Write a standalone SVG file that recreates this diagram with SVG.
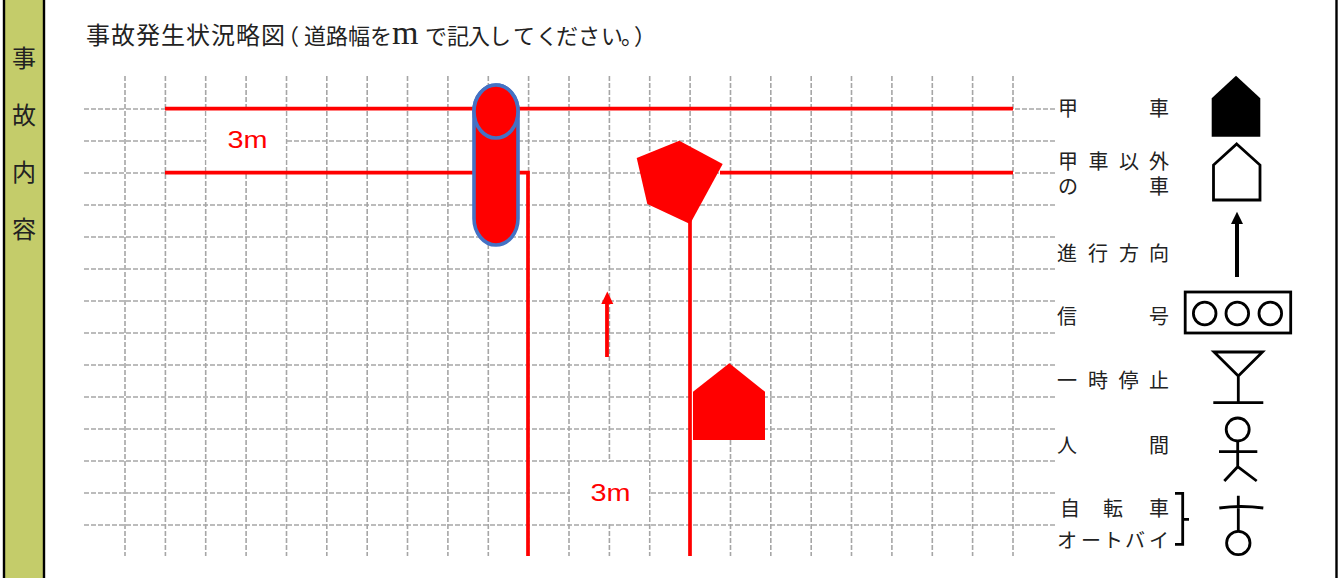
<svg xmlns="http://www.w3.org/2000/svg" width="1338" height="578" viewBox="0 0 1338 578">
<style>
text{font-family:"Noto Sans CJK JP","Noto Sans",sans-serif;fill:#222}
.t{font-size:24px}.l{font-size:20px}
.r{font-family:"Liberation Sans",sans-serif;font-size:23px;fill:#f00}
.g{stroke:#a6a6a6;stroke-width:1.6;stroke-dasharray:5 2;fill:none}
.w{stroke:#f00;stroke-width:3.7;fill:none}
.k{stroke:#000;stroke-width:2.8;fill:none}
</style>
<rect width="1338" height="578" fill="#fff"/>
<g id="band"><rect x="4" y="0" width="40" height="578" fill="#c4cc6a"/><path d="M4 0V578M44 0V578M1336.5 0V578" stroke="#000" stroke-width="2.4" fill="none"/>
<text class="t" x="12" y="67">事</text><text class="t" x="12" y="124">故</text><text class="t" x="12" y="181">内</text><text class="t" x="12" y="238">容</text></g>
<text id="title" class="t" y="44" x="86 111 136 161 186 211 236 261">事故発生状況略図<tspan font-size="22" x="277 304 326 348 370">（道路幅を</tspan><tspan font-family="Liberation Serif" font-size="34" x="392">m</tspan><tspan font-size="22" x="425 447 468 489 513 536 556 578 601 621 634">で記入してください。）</tspan></text>
<g id="grid" class="g">
<path d="M84 109H1056M84 141H1056M84 173H1056M84 205H1056M84 237H1056M84 269H1056M84 301H1056M84 333H1056M84 365H1056M84 397H1056M84 429H1056M84 461H1056M84 493H1056M84 525H1056"/>
<path d="M125 76V556M165.4 76V556M205.7 76V556M246.1 76V556M286.5 76V556M326.8 76V556M367.2 76V556M407.5 76V556M447.9 76V556M488.3 76V556M528.6 76V556M569 76V556M609.4 76V556M649.7 76V556M690.1 76V556M730.5 76V556M770.8 76V556M811.2 76V556M851.5 76V556M891.900 76V556M932.300 76V556M972.600 76V556M1013 76V556"/>
</g>
<g id="label-3m-a"><rect x="206.500" y="110" width="79" height="62" fill="#fff"/><text class="r" x="227.500" y="148" textLength="40" lengthAdjust="spacingAndGlyphs">3m</text></g>
<g id="label-3m-b"><rect x="570" y="462" width="79" height="62" fill="#fff"/><text class="r" x="590.500" y="500.500" textLength="40" lengthAdjust="spacingAndGlyphs">3m</text></g>
<g id="connectors">
<path class="w" d="M165 108.700H1013M165 172.700H528V556M690 220V556M720 172.700H1013"/>
<path d="M607 357V300" stroke="#f00" stroke-width="3.800" fill="none"/>
<path d="M607.300 291.500L613.300 304H601.300Z" fill="#f00"/>
</g>
<g id="can"><path d="M474 111.500V218.500A22 26.500 0 0 0 518 218.500V111.500A22 26.500 0 0 0 474 111.500Z" fill="#f00" stroke="#4472c4" stroke-width="3.600"/><ellipse cx="496" cy="111.500" rx="22" ry="26.500" fill="#f00" stroke="#4472c4" stroke-width="3.600"/></g>
<polygon id="pentagon" points="636.700,158 679.300,140.700 722.700,164 690,224 647.300,204" fill="#f00"/>
<polygon id="red-house" points="729.300,363.300 765,391.700 765,440 693,440 693,391.700" fill="#f00"/>
<g id="legend-labels" class="l">
<text x="1058 1149" y="115.500" class="l">甲車</text>
<text x="1058 1088.500 1119 1149 1058 1149" y="168.500 168.500 168.500 168.500 193.500 193.500" class="l">甲車以外の車</text>
<text x="1057 1088 1119 1149" y="260.500" class="l">進行方向</text>
<text x="1057 1149" y="323.500" class="l">信号</text>
<text x="1057 1088 1118.500 1149" y="387.500" class="l">一時停止</text>
<text x="1057 1149" y="452.500" class="l">人間</text>
<text x="1060 1103 1149" y="515.500" class="l">自転車</text>
<text x="1057 1081 1103 1125 1149" y="547.500" class="l">オートバイ</text>
</g>
<polygon id="sym-own" points="1236,75.700 1260.300,98.300 1260.300,136.700 1211.700,136.700 1211.700,98.300" fill="#000"/>
<polygon id="sym-other" class="k" points="1236.700,144 1260,165 1260,200 1213.500,200 1213.500,165"/>
<g id="sym-arrow"><path d="M1237 277V222" stroke="#000" stroke-width="4"/><path d="M1237 211.700L1243 224H1231Z" fill="#000"/></g>
<g id="sym-signal" class="k"><rect x="1185.200" y="292" width="105.500" height="41"/><circle cx="1204.700" cy="313.500" r="11.300"/><circle cx="1237.300" cy="313.500" r="11.300"/><circle cx="1270.300" cy="313.500" r="11.300"/></g>
<g id="sym-stop" class="k"><path d="M1214 352H1262.500L1238.300 376ZM1238.300 376V402.700M1213.300 402.700H1263.300"/></g>
<g id="sym-person" class="k"><circle cx="1237.700" cy="429.500" r="11.500"/><path d="M1237.700 441V466.700M1219 451.700H1257.300M1224.300 481L1237.700 466.700L1256.700 481"/></g>
<g id="sym-bike" class="k"><path d="M1238.300 495.700V531M1219.300 508Q1241 505 1263.300 508"/><circle cx="1238.300" cy="543" r="11.700"/></g>
<path id="bracket" d="M1175 493.300H1182.700V544.300H1175M1182.700 519.300H1189" stroke="#000" stroke-width="2.800" fill="none"/>
</svg>
